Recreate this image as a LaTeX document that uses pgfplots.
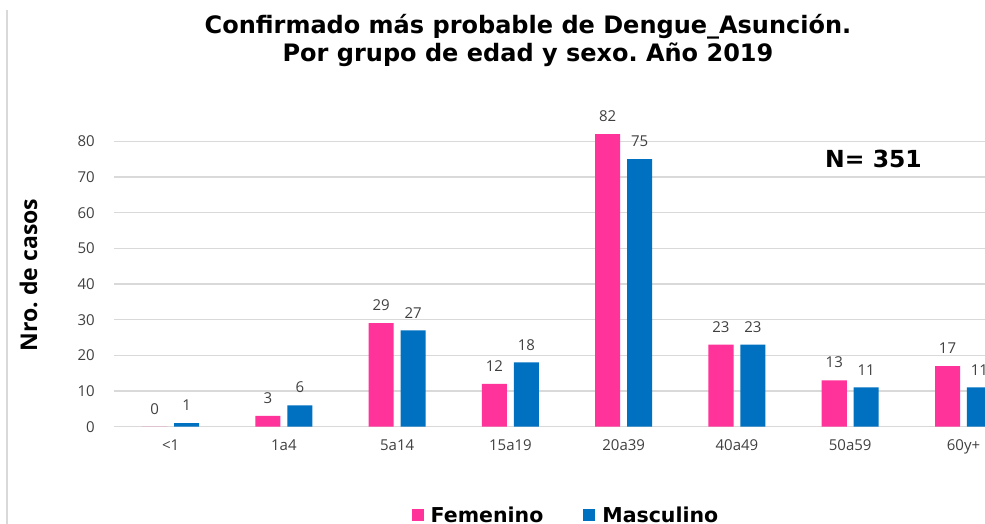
\documentclass[border=0pt]{standalone}
\usepackage{fontspec}
\setmainfont{Open Sans}
\newfontfamily\dejavu{DejaVu Sans}
\usepackage{pgfplots}
\pgfplotsset{compat=1.18}
\definecolor{fem}{RGB}{255,51,153}
\definecolor{mas}{RGB}{0,112,192}
\definecolor{lbl}{RGB}{64,64,64}
\definecolor{grd}{RGB}{217,217,217}
\frenchspacing
\begin{document}
\begin{tikzpicture}
\useasboundingbox (0,0) rectangle (985pt,524pt);
\draw[grd, line width=1.2pt] (7pt,0) -- (7pt,514pt);
\node[anchor=base, font=\dejavu\bfseries\fontsize{24}{28}\selectfont] at (528pt,490.7pt) {Confirmado más probable de Dengue\_Asunción.};
\node[anchor=base, font=\dejavu\bfseries\fontsize{24}{28}\selectfont] at (528pt,462.3pt) {Por grupo de edad y sexo. Año 2019};
\node[anchor=base, rotate=90, font=\bfseries\fontsize{23}{27}\selectfont] at (37pt,249pt) {Nro. de casos};
\node[font=\dejavu\bfseries\fontsize{23.5}{27}\selectfont] at (873.5pt,365pt) {N= 351};
\begin{axis}[
  at={(114pt,97.3pt)}, anchor=south west,
  scale only axis, width=871pt, height=321.1pt,
  xmin=-0.5, xmax=7.19, ymin=0, ymax=90,
  clip=false,
  axis line style={draw=none},
  tick style={draw=none},
  ytick={0,10,...,80},
  ymajorgrids, grid style={grd, line width=1.2pt},
  xtick={0,...,7},
  xticklabels={<1,1a4,5a14,15a19,20a39,40a49,50a59,60y+},
  xticklabel style={anchor=north, inner sep=0pt, yshift=-13pt, font=\fontsize{15}{18}\selectfont, text=lbl},
  yticklabel style={anchor=east, inner sep=0pt, xshift=-19pt, font=\fontsize{15}{18}\selectfont, text=lbl},
  /pgf/number format/assume math mode=true,
  nodes near coords,
  every node near coord/.append style={font=\fontsize{15}{18}\selectfont, text=lbl, inner sep=0pt, anchor=south, yshift=12pt},
  legend columns=2,
  legend style={draw=none, fill=none, at={(565pt-114pt,9pt-97.3pt)}, anchor=center,
    font=\dejavu\bfseries\fontsize{20.5}{24}\selectfont,
    nodes={inner sep=0pt, anchor=west},
    /tikz/every odd column/.append style={column sep=7pt},
    /tikz/every even column/.append style={column sep=40pt}},
  legend image code/.code={\fill[#1, draw=none] (0pt,-6pt) rectangle (12pt,6pt);},
]
\addplot[ybar, bar width=0.221, bar shift=0, fill=fem, draw=none] coordinates {(-0.141,0) (0.859,3) (1.859,29) (2.859,12) (3.859,82) (4.859,23) (5.859,13) (6.859,17)};
\addlegendentry{Femenino}
\addplot[ybar, bar width=0.221, bar shift=0, fill=mas, draw=none] coordinates {(0.141,1) (1.141,6) (2.141,27) (3.141,18) (4.141,75) (5.141,23) (6.141,11) (7.141,11)};
\addlegendentry{Masculino}
\end{axis}
\end{tikzpicture}
\end{document}
